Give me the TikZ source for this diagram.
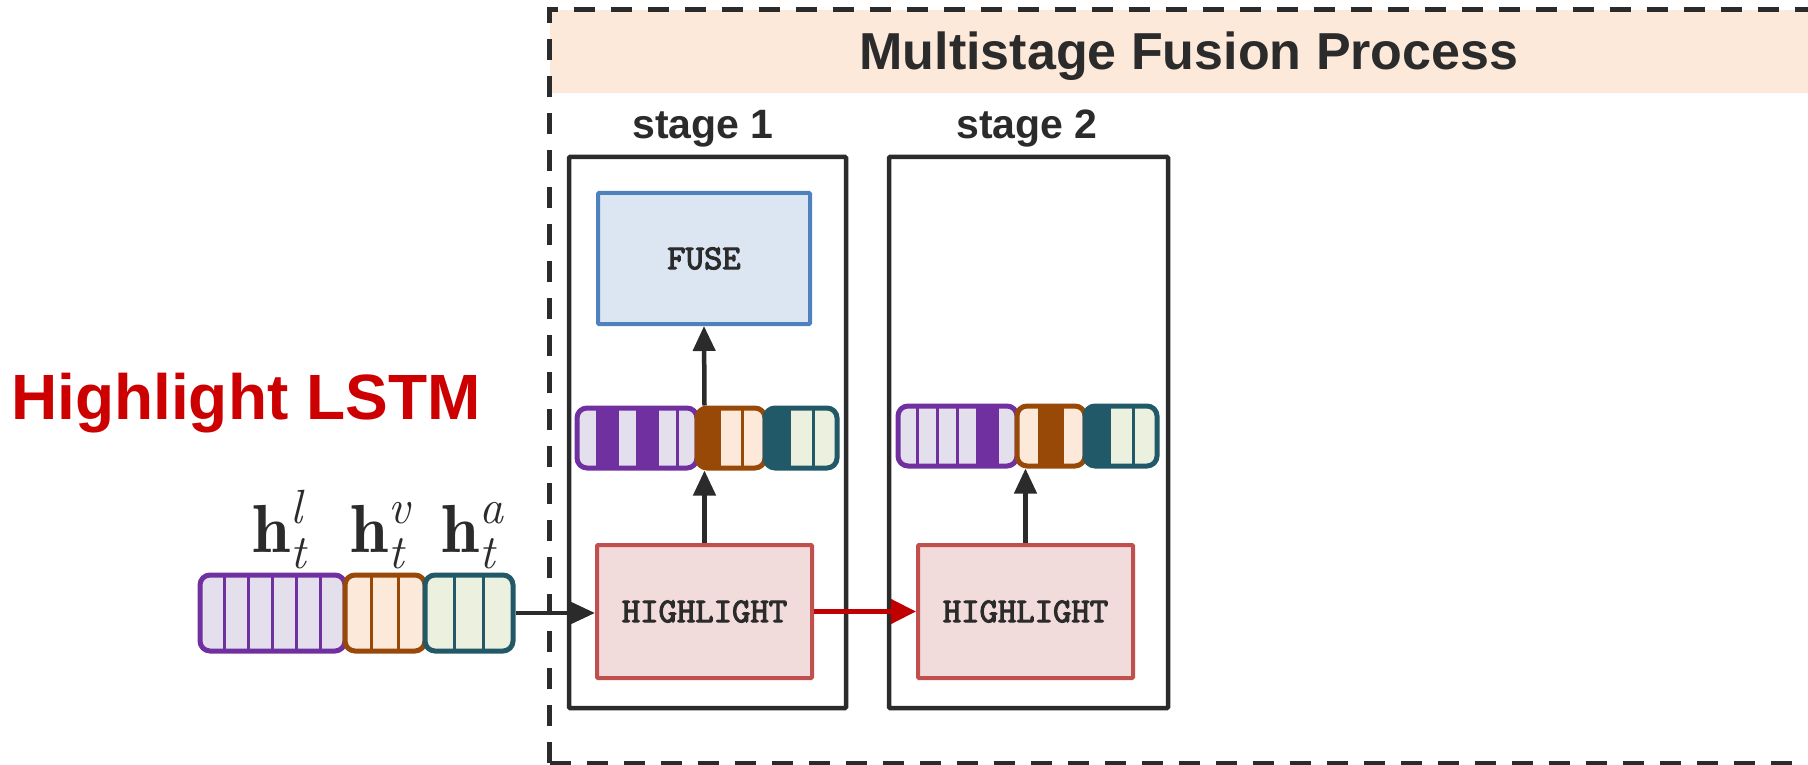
\RequirePackage{fix-cm}
\documentclass[tikz,border=0pt]{standalone}
\usepackage[no-math]{fontspec}
\setmainfont{Liberation Sans}
\usetikzlibrary{arrows.meta}
\font\hlfnt="[lmmono10-regular.otf]:embolden=3" at 35pt
\newcommand{\scr}[1]{\hbox{\fontfamily{lmr}\fontsize{48}{48}\selectfont\itshape #1}}
\newcommand{\hvec}[1]{$\hbox{\fontfamily{lmr}\fontsize{68}{68}\selectfont\bfseries h}_{\scr{t}}^{\scr{#1}}$}
\definecolor{dk}{HTML}{2B2B2B}
\definecolor{purp}{HTML}{7030A0}
\definecolor{purpf}{HTML}{E4DFEC}
\definecolor{oran}{HTML}{984807}
\definecolor{oranf}{HTML}{FDE9D9}
\definecolor{teal}{HTML}{215968}
\definecolor{tealf}{HTML}{EBF1DE}
\definecolor{bannerf}{HTML}{FCE9DA}
\definecolor{fuseb}{HTML}{4F81BD}
\definecolor{fusef}{HTML}{DCE6F2}
\definecolor{hlb}{HTML}{C0504D}
\definecolor{hlf}{HTML}{F2DCDB}
\definecolor{lstm}{HTML}{CC0000}
\definecolor{redarr}{HTML}{C00000}
\newcommand{\segvec}[8]{%
  \begin{scope}
    \clip[rounded corners=10pt] (#1,#2) rectangle (#3,#4);
    \fill[#6] (#1,#2) rectangle (#3,#4);
    \pgfmathsetmacro{\cw}{(#3-#1)/#7}
    \foreach \k in {#8}{\fill[#5] ({#1+(\k-1)*\cw},#2) rectangle ({#1+\k*\cw},#4);}
    \foreach \k in {1,...,#7}{\draw[#5,line width=3pt] ({#1+\k*\cw},#2) -- ({#1+\k*\cw},#4);}
  \end{scope}
  \draw[#5,line width=5pt,rounded corners=10pt] (#1,#2) rectangle (#3,#4);
}
\tikzset{
  stagebox/.style={draw=dk, line width=4.5pt, inner sep=0pt, outer sep=0pt, rounded corners=1pt},
  fusebox/.style={draw=fuseb, fill=fusef, line width=4pt, inner sep=0pt, outer sep=2pt, rounded corners=1pt,
    font=\hlfnt, text=dk},
  hlbox/.style={draw=hlb, fill=hlf, line width=4pt, inner sep=0pt, outer sep=2pt, rounded corners=1pt,
    font=\hlfnt, text=dk},
  vecnode/.style={inner sep=0pt, outer sep=2.5pt},
  stagelbl/.style={anchor=base, inner sep=0pt, text=dk, font=\bfseries\fontsize{41}{46}\selectfont},
  hlabel/.style={anchor=base west, inner sep=0pt, text=dk, font=\fontsize{68}{80}\selectfont},
  arr/.style={draw=dk, line width=4.5pt, -{Triangle[length=25pt,width=22pt]}},
  redarrow/.style={draw=redarr, line width=4.5pt, -{Triangle[length=25pt,width=24pt]}},
}
\begin{document}
\begin{tikzpicture}[x=1pt,y=-1pt]
\useasboundingbox (0,0) rectangle (1808,765);
\clip (0,0) rectangle (1808,765);
% banner and dashed frame
\fill[bannerf] (549.5,10) rectangle (1830,93);
\draw[dk, line width=5pt, dash pattern=on 21pt off 16pt] (549.5,763) -- (549.5,10) -- (1830,10);
\draw[dk, line width=5pt, dash pattern=on 21pt off 16pt] (549.5,763) -- (1830,763);
\node[anchor=base, inner sep=0pt, text=dk, font=\bfseries\fontsize{52}{60}\selectfont] (title) at (1189,70) {Multistage Fusion Process};
% stage boxes
\node[stagebox, minimum width=277pt, minimum height=551pt] (st1) at (707.5,432.5) {};
\node[stagebox, minimum width=279pt, minimum height=551pt] (st2) at (1028.5,432.5) {};
\node[stagelbl] (s1lab) at (703,139) {stage 1};
\node[stagelbl] (s2lab) at (1027,139) {stage 2};
% inner boxes
\node[fusebox, minimum width=212pt, minimum height=131pt] (fuse) at (704,258.5) {FUSE};
\node[hlbox, minimum width=215pt, minimum height=133pt] (hl1) at (704.5,611.5) {HIGHLIGHT};
\node[hlbox, minimum width=215pt, minimum height=133pt] (hl2) at (1025.5,611.5) {HIGHLIGHT};
% vectors
\node[vecnode, minimum width=313pt, minimum height=76pt] (vin) at (356.5,613) {};
\segvec{200}{575}{345}{651}{purp}{purpf}{6}{0}
\segvec{345}{575}{425}{651}{oran}{oranf}{3}{0}
\segvec{425}{575}{513}{651}{teal}{tealf}{3}{0}
\node[vecnode, minimum width=260pt, minimum height=60pt] (v1) at (707,438) {};
\segvec{577}{408}{697}{468}{purp}{purpf}{6}{2,4}
\segvec{697}{408}{765}{468}{oran}{oranf}{3}{1}
\segvec{765}{408}{837}{468}{teal}{tealf}{3}{1}
\node[vecnode, minimum width=259pt, minimum height=60pt] (v2) at (1027.5,436) {};
\segvec{898}{406}{1017}{466}{purp}{purpf}{6}{5}
\segvec{1017}{406}{1085}{466}{oran}{oranf}{3}{2}
\segvec{1085}{406}{1157}{466}{teal}{tealf}{3}{1}
% labels
\node[hlabel] (hlab) at (252,552) {\hvec{l}};
\node[hlabel] (hvab) at (350,552) {\hvec{v}};
\node[hlabel] (haab) at (441,552) {\hvec{a}};
\node[anchor=base west, inner sep=0pt, text=lstm, font=\bfseries\fontsize{64}{70}\selectfont] (lstmlab) at (11,419) {Highlight LSTM};
% connectors
\draw[arr] (vin.east) -- (vin.east -| hl1.west);
\draw[arr] (hl1.north) -- (hl1.north |- v1.south);
\draw[arr] (hl1.north |- v1.north) -- (fuse.south);
\draw[redarrow] (hl1.east) -- (hl2.west);
\draw[arr] (hl2.north) -- (hl2.north |- v2.south);
\end{tikzpicture}
\end{document}
